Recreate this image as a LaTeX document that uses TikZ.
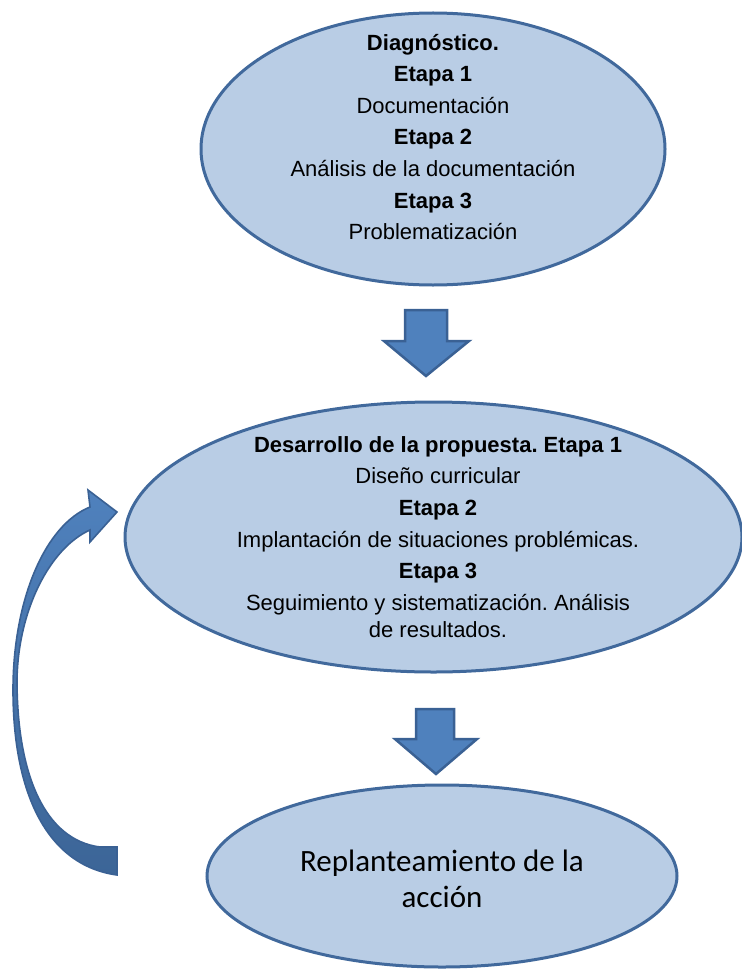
\documentclass[tikz,border=0pt]{standalone}
\usepackage{fontspec}
\setmainfont{Liberation Sans}
\newfontfamily\calibri{Carlito}
\usetikzlibrary{shapes.geometric, positioning, calc}
\frenchspacing

\definecolor{elfill}{HTML}{B9CDE5}
\definecolor{elline}{HTML}{41699C}
\definecolor{arfill}{HTML}{4F81BD}
\definecolor{arline}{HTML}{3A6194}
\definecolor{ardark}{HTML}{3C6597}

\begin{document}
\begin{tikzpicture}[x=1pt, y=-1pt,
    etapa/.style={ellipse, draw=elline, line width=3pt, fill=elfill, inner sep=0pt},
    txt/.style={align=center, font=\fontsize{22}{31.6}\selectfont},
    blockarrow/.style={draw=arline, line width=2.5pt, fill=arfill, line join=miter},
    loopback/.style={draw=arline, line width=1.6pt, top color=arfill, bottom color=ardark}
]
    \useasboundingbox (0,0) rectangle (741,971);

    \node[etapa, minimum width=464pt, minimum height=272pt] (diag) at (433,149) {};
    \node[etapa, minimum width=617pt, minimum height=270pt] (desa) at (433.5,537) {};
    \node[etapa, minimum width=470pt, minimum height=182pt] (repl) at (442,876) {};

    \node[txt] (diagtxt) at (433,137) {\textbf{Diagnóstico.}\\ \textbf{Etapa 1}\\ Documentación\\
        \textbf{Etapa 2}\\ Análisis de la documentación\\ \textbf{Etapa 3}\\ Problematización};
    \node[txt] (desatxt) at (438,537) {\textbf{Desarrollo de la propuesta. Etapa 1}\\ Diseño curricular\\
        \textbf{Etapa 2}\\ Implantación de situaciones problémicas.\\ \textbf{Etapa 3}\\
        Seguimiento y sistematización. Análisis\\[-4.5pt] de resultados.};
    \node[align=center, font=\calibri\fontsize{31}{36}\selectfont] (repltxt) at (442,879)
        {Replanteamiento de la\\ acción};

    % flechas hacia abajo
    \draw[blockarrow] (405,310) -- (447,310) -- (447,341) -- (469,341) -- (426,376)
        -- (384,341) -- (405,341) -- cycle;
    \draw[blockarrow] (416,709) -- (454,709) -- (454,739) -- (477,739) -- (436,774)
        -- (395,739) -- (416,739) -- cycle;

    % flecha de retorno
    \coordinate (tail) at (117,861);
    \coordinate (tip) at (117,512);
    \shadedraw[loopback] (117,875) .. controls (45,865) and (13,790) .. (13,690)
        .. controls (13,600) and (45,525) .. (90,507) -- (88,490) -- (tip) -- (90,542)
        -- (90,530) .. controls (50,548) and (18,610) .. (17,680)
        .. controls (17,775) and (45,840) .. (100,847) -- (117,847) -- cycle;
\end{tikzpicture}
\end{document}
